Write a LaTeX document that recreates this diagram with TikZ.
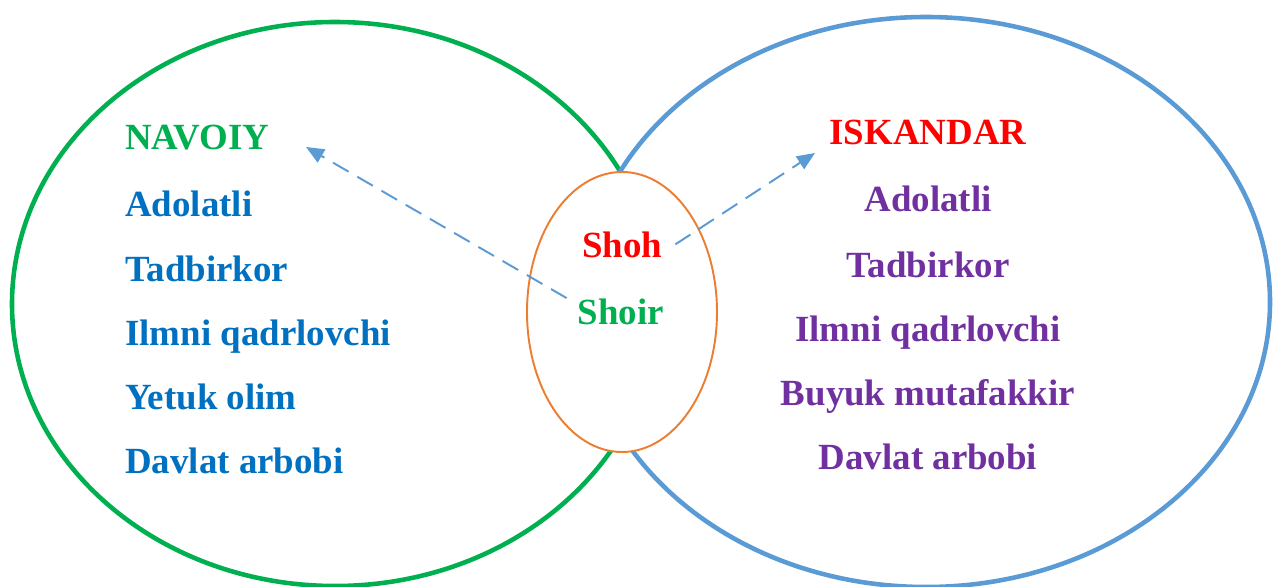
\documentclass[tikz,border=0pt]{standalone}
\usepackage{fontspec}
\setmainfont{Liberation Serif}
\usepackage{tikz}
\usetikzlibrary{arrows.meta}

\definecolor{navgreen}{HTML}{00B050}
\definecolor{iskblue}{HTML}{5B9BD5}
\definecolor{midorange}{HTML}{ED7D31}
\definecolor{navtext}{HTML}{0070C0}
\definecolor{isktext}{HTML}{7030A0}
\definecolor{shohred}{HTML}{FF0000}

\begin{document}
\begin{tikzpicture}[x=0.02cm,y=-0.02cm,
    word/.style={font=\fontsize{21}{25}\selectfont\bfseries, inner sep=0pt},
    ring/.style={line width=2.6pt},
    link/.style={draw=iskblue, line width=1.1pt, dash pattern=on 0.36cm off 0.2cm,
      -{Triangle[length=0.36cm,width=0.3cm]}}]
	    \useasboundingbox (0,0) rectangle (1273,587);

            % draw circles
	    \draw[ring, color=navgreen] (335,304) ellipse [x radius=323, y radius=282];
	    \draw[ring, color=iskblue] (926,302) ellipse [x radius=344, y radius=285];
	    \draw[color=midorange, line width=1.1pt, fill=white] (622,312) ellipse [x radius=95, y radius=140];

            % left side
	    \node[word, color=navgreen, anchor=base west] (navoiy) at (125,150) {NAVOIY};
	    \node[word, color=navtext, anchor=base west] (nav1) at (125,217) {Adolatli};
	    \node[word, color=navtext, anchor=base west] (nav2) at (125,281) {Tadbirkor};
	    \node[word, color=navtext, anchor=base west] (nav3) at (125,345) {Ilmni qadrlovchi};
	    \node[word, color=navtext, anchor=base west] (nav4) at (125,409) {Yetuk olim};
	    \node[word, color=navtext, anchor=base west] (nav5) at (125,473) {Davlat arbobi};

            % right side
	    \node[word, color=shohred, anchor=base] (iskandar) at (928,145) {ISKANDAR};
	    \node[word, color=isktext, anchor=base] (isk1) at (928,212) {Adolatli};
	    \node[word, color=isktext, anchor=base] (isk2) at (928,277) {Tadbirkor};
	    \node[word, color=isktext, anchor=base] (isk3) at (928,341) {Ilmni qadrlovchi};
	    \node[word, color=isktext, anchor=base] (isk4) at (928,405) {Buyuk mutafakkir};
	    \node[word, color=isktext, anchor=base] (isk5) at (928,469) {Davlat arbobi};

            % middle
	    \node[word, color=shohred, anchor=base, inner xsep=0.26cm] (shoh) at (622,257) {Shoh};
	    \node[word, color=navgreen, anchor=base, inner xsep=0.22cm] (shoir) at (621,324) {Shoir};

            % draw arrows
	    \coordinate (navtip) at (306,147);
	    \coordinate (isktip) at (815,153);
	    \draw[link] (shoir.north west) -- (navtip);
	    \draw[link] (shoh.east) -- (isktip);
        \end{tikzpicture}
\end{document}
